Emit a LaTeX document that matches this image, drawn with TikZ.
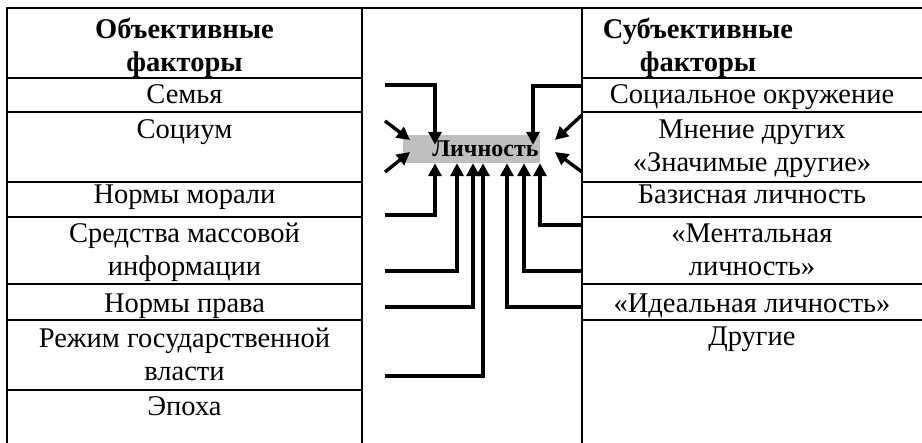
\documentclass[tikz,border=0pt]{standalone}
\usepackage{fontspec}
\setmainfont{Liberation Serif}
\newfontfamily\tnrfont{Liberation Serif}
\usetikzlibrary{arrows.meta}
\newcommand{\cellfont}{\tnrfont\fontsize{28.5}{33}\selectfont}
\tikzset{
  grid/.style={line width=1.8pt, line cap=rect},
  cell/.style={anchor=north, inner sep=0pt, align=center, font=\cellfont},
  hcell/.style={cell, font=\cellfont\bfseries},
  arr/.style={line width=3.4pt, -{Triangle[length=13pt,width=13pt]}},
  core/.style={fill=gray!50, minimum height=28pt, text width=134pt, align=right,
    inner xsep=1.5pt, inner ysep=0pt, font=\tnrfont\fontsize{24}{26}\selectfont\bfseries}
}
\begin{document}
\begin{tikzpicture}[x=1pt,y=-1pt]
\useasboundingbox (0,0) rectangle (922,443);
% table frame
\draw[grid] (7,443) -- (7,8) -- (922,8);
\draw[grid] (362,8) -- (362,443);
\draw[grid] (582,8) -- (582,443);
\foreach \y in {78,112,182,217,284,320,390} \draw[grid] (7,\y) -- (362,\y);
\foreach \y in {78,112,182,217,284,320} \draw[grid] (582,\y) -- (922,\y);
% left texts
\node[hcell] (lh) at (184.5,38-23.1) {\strut Объективные\\факторы};
\node[cell] (l1) at (184.5,103-23.1) {\strut Семья};
\node[cell] (l2) at (184.5,138-23.1) {\strut Социум};
\node[cell] (l3) at (184.5,203-23.1) {\strut Нормы морали};
\node[cell] (l4) at (184.5,242-23.1) {\strut Средства массовой\\информации};
\node[cell] (l5) at (184.5,312-23.1) {\strut Нормы права};
\node[cell] (l6) at (184.5,347-23.1) {\strut Режим государственной\\власти};
\node[cell] (l7) at (184.5,415-23.1) {\strut Эпоха};
% right texts
\node[hcell] (rh) at (698,38-23.1) {\strut Субъективные\\факторы};
\node[cell] (r1) at (752,103-23.1) {\strut Социальное окружение};
\node[cell] (r2) at (752,138-23.1) {\strut Мнение других\\«Значимые другие»};
\node[cell] (r3) at (752,203-23.1) {\strut Базисная личность};
\node[cell] (r4) at (752,242-23.1) {\strut «Ментальная\\личность»};
\node[cell] (r5) at (752,312-23.1) {\strut «Идеальная личность»};
\node[cell] (r6) at (752,345-23.1) {\strut Другие};
% centre
\node[core] (lich) at (471.5,149) {Личность};
% start points
\coordinate (sa) at (385,85);
\coordinate (sb) at (385,121);
\coordinate (sc) at (385,172);
\coordinate (sd) at (385,215);
\coordinate (se) at (385,271);
\coordinate (sf) at (385,307);
\coordinate (sg) at (385,376);
\coordinate (ta) at (582,86);
\coordinate (tb) at (582,115);
\coordinate (tc) at (582,172);
\coordinate (td) at (582,225);
\coordinate (te) at (582,271);
\coordinate (tf) at (582,307);
% vertical lanes
\coordinate (va) at (435,0);
\coordinate (vd) at (457,0);
\coordinate (ve) at (473,0);
\coordinate (vf) at (483,0);
\coordinate (wa) at (533,0);
\coordinate (wd) at (540,0);
\coordinate (we) at (524,0);
\coordinate (wf) at (507,0);
% left connectors
\draw[arr] (sa) -| ([yshift=-10pt]va |- lich.north);
\draw[arr] (sb) -- (410,140);
\draw[arr] (sc) -- (410,152);
\draw[arr] (sd) -| (va |- lich.south);
\draw[arr] (se) -| (vd |- lich.south);
\draw[arr] (sf) -| (ve |- lich.south);
\draw[arr] (sg) -| (vf |- lich.south);
% right connectors
\draw[arr] (ta) -| ([yshift=-10pt]wa |- lich.north);
\draw[arr] (tb) -- (555,140);
\draw[arr] (tc) -- (555,152);
\draw[arr] (td) -| (wd |- lich.south);
\draw[arr] (te) -| (we |- lich.south);
\draw[arr] (tf) -| (wf |- lich.south);
\end{tikzpicture}
\end{document}
